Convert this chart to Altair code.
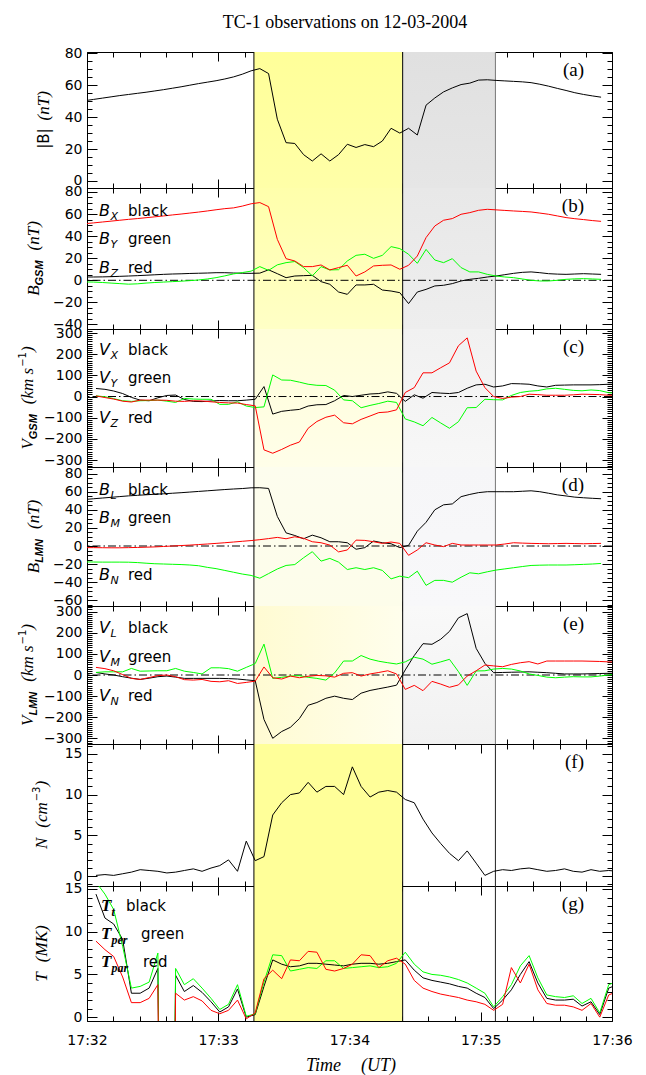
import json
import math
import altair as alt
import pandas as pd

# ---------------- time grids (seconds after 17:32:00 UT) ----------------
T_B = [-1, 3, 7, 11, 15, 19, 23, 27, 31, 35,
       39, 43, 47, 51, 55, 59, 63, 67, 71, 75,
       79, 83, 87, 91, 95, 99, 103, 107, 111, 115,
       119, 123, 127, 131, 135, 139, 143, 147, 151, 155,
       159, 163, 167, 171, 175, 179, 183, 187, 191, 195,
       199, 203, 207, 211, 215, 219, 223, 227, 231, 235]
T_P = [4.1, 8.2, 12.2, 16.3, 20.3, 24.3, 28.4, 32.4, 36.5, 40.5,
       44.5, 48.6, 52.6, 56.7, 60.7, 64.7, 68.8, 72.8, 76.9, 80.9,
       84.9, 89.0, 93.0, 97.1, 101.1, 105.1, 109.2, 113.2, 117.3, 121.3,
       125.3, 129.4, 133.4, 137.5, 141.5, 145.5, 149.6, 153.6, 157.7, 161.7,
       165.7, 169.8, 173.8, 177.9, 181.9, 185.9, 190.0, 194.0, 198.1, 202.1,
       206.1, 210.2, 214.2, 218.3, 222.3, 226.3, 230.4, 234.4, 238.5, 242.5]

# ---------------- (a) |B| ----------------
B_TOT = [50.3, 51.1, 51.9, 52.7, 53.5, 54.2, 54.9, 55.6, 56.4, 57.2,
         58.1, 59.0, 60.0, 61.0, 61.9, 62.8, 63.9, 65.2, 66.9, 69.0,
         70.4, 67.3, 38.7, 24.0, 23.5, 16.5, 12.5, 17.0, 12.5, 16.5,
         23.0, 21.0, 22.8, 21.5, 25.0, 33.0, 30.0, 33.0, 28.8, 47.5,
         52.0, 55.8, 58.3, 60.4, 61.3, 63.2, 63.4, 63.0, 62.7, 62.4,
         62.1, 61.6, 60.6, 59.4, 58.0, 56.7, 55.3, 54.2, 53.3, 52.5]

# ---------------- (b) B GSM ----------------
BGSM_BLACK = [3.0, 3.0, 3.1, 3.3, 3.6, 3.9, 4.2, 4.6, 5.0, 5.4,
              5.7, 5.9, 6.2, 6.4, 6.6, 6.9, 6.9, 6.6, 6.4, 6.3,
              6.5, 9.5, 6.0, 2.4, 3.9, 4.2, 4.5, -1.2, -3.6, -10.6,
              -12.7, -4.2, -4.2, -3.6, -8.8, -9.7, -11.2, -21.1, -10.6, -8.2,
              -5.1, -4.5, -3.0, -0.6, 0.9, 1.8, 3.0, 3.9, 5.1, 6.3,
              7.2, 7.6, 6.9, 6.0, 5.6, 5.4, 5.7, 6.0, 5.7, 5.4]
BGSM_GREEN = [-1.5, -1.6, -2.0, -2.5, -3.0, -3.5, -3.2, -2.5, -2.0, -1.6,
              -1.2, -0.8, -0.3, 0.3, 1.2, 2.4, 4.0, 5.8, 7.0, 8.3,
              12.4, 9.0, 14.0, 16.0, 17.0, 11.5, 4.0, 12.4, 9.4, 9.6,
              17.5, 22.6, 23.6, 19.9, 22.6, 30.5, 28.7, 23.6, 15.4, 28.0,
              18.4, 16.0, 19.6, 11.5, 7.6, 7.6, 5.4, 3.9, 3.0, 2.4,
              1.2, 0.0, -0.6, -0.6, 0.0, 0.9, 1.3, 1.5, 1.2, 0.9]
BGSM_RED = [51.3, 52.0, 52.8, 53.6, 54.4, 55.2, 55.9, 56.7, 57.5, 58.3,
            59.2, 60.0, 60.9, 61.8, 62.8, 63.9, 64.9, 65.6, 67.2, 69.3,
            70.4, 66.7, 37.1, 19.6, 17.5, 12.4, 12.4, 13.9, 9.4, 11.5,
            13.6, 3.9, 7.6, 13.0, 13.6, 13.9, 10.0, 13.6, 22.0, 38.7,
            49.2, 54.4, 55.9, 59.8, 61.3, 63.4, 64.3, 63.8, 63.3, 62.8,
            62.4, 61.9, 60.9, 59.8, 58.3, 56.8, 55.8, 55.0, 54.1, 53.4]

# ---------------- (c) V GSM ----------------
VGSM_BLACK = [38, 34, 26, 14, -4, -17, -20, -6, 5, 7,
              -14, -23, -24, -21, -19, -20, -20, -17, -13, 47,
              -83, -70, -65, -61, -45, -39, -38, -20, 5, 0,
              6, 12, 14, 22, 15, -23, 8, -8, 19, 16,
              14, 19, 39, 55, 58, 45, 50, 61, 60, 58,
              50, 45, 53, 54, 55, 55, 55, 56, 58, 58]
VGSM_GREEN = [3, -1, -10, -20, -23, -20, -19, -17, -22, -28,
              -9, -12, -13, -13, -37, -37, -25, -45, -52, -49,
              102, 78, 77, 68, 58, 53, 52, 30, -16, -20,
              -53, -42, -33, -22, -28, -106, -120, -138, -99, -125,
              -150, -119, -53, -52, -13, -15, -16, 5, 19, 25,
              28, 36, 39, 34, 29, 27, 31, 28, 18, 16]
VGSM_RED = [3, -5, -12, -22, -26, -17, -17, -17, -18, -22,
            -23, -20, -21, -25, -28, -30, -31, -38, -44, -252,
            -268, -250, -230, -215, -150, -118, -98, -88, -124, -129,
            -108, -92, -76, -73, -63, 19, 42, 112, 112, 136,
            159, 240, 277, 120, 42, 0, -9, -3, 0, 11,
            9, 6, 6, 6, 8, 11, 10, 9, 6, 6]

# ---------------- (d) B LMN ----------------
BLMN_BLACK = [51.4, 52.2, 53.0, 53.8, 54.6, 55.4, 56.0, 56.6, 57.2, 57.7,
              58.3, 58.9, 59.6, 60.3, 61.0, 61.7, 62.4, 63.0, 63.5, 64.3,
              64.4, 63.6, 32.7, 14.5, 11.6, 8.0, 12.0, 9.1, 4.7, 4.7,
              3.6, -3.6, -1.8, 5.5, 3.6, 2.5, -1.8, 0.7, 16.4, 26.2,
              40.0, 45.5, 46.5, 54.5, 57.0, 59.0, 60.0, 60.0, 60.0, 60.0,
              60.5, 61.0, 60.0, 58.3, 56.5, 55.3, 54.0, 53.3, 52.7, 52.2]
BLMN_GREEN = [-17.6, -17.7, -17.8, -17.8, -17.8, -17.9, -18.3, -19.0, -19.6, -19.9,
              -20.2, -20.5, -21.0, -21.8, -23.6, -25.0, -27.0, -29.0, -31.0, -32.5,
              -35.6, -30.5, -25.4, -21.5, -20.5, -13.0, -6.3, -16.7, -13.7, -17.8,
              -26.0, -24.0, -26.0, -24.0, -27.0, -36.3, -33.3, -35.0, -27.8, -43.5,
              -38.0, -38.0, -40.0, -34.5, -29.6, -30.7, -28.5, -26.6, -25.3, -24.0,
              -22.7, -21.5, -21.2, -21.0, -21.0, -21.0, -20.7, -20.3, -19.9, -19.3]
BLMN_RED = [-1.8, -1.8, -1.9, -2.0, -2.0, -1.8, -1.6, -1.3, -1.0, -0.5,
            0.0, 0.5, 1.0, 1.6, 2.2, 2.9, 3.6, 4.4, 5.2, 6.0,
            7.0, 8.2, 9.5, 8.0, 10.2, 8.5, 4.7, 3.6, 1.0, -6.5,
            -4.4, 6.5, 6.2, 4.7, 2.9, 4.4, 2.9, -10.3, -4.4, 3.6,
            1.1, -0.7, 2.9, 1.1, 1.1, 1.1, 1.1, 1.1, 2.2, 3.6,
            3.2, 2.9, 2.7, 2.5, 2.7, 2.9, 2.7, 2.5, 2.7, 2.9]

# ---------------- (e) V LMN ----------------
VLMN_BLACK = [12, 5, 0, -8, -15, -21, -15, -8, -5, -10,
              -16, -16, -16, -16, -16, -17, -19, -23, -27, -210,
              -299, -267, -247, -206, -143, -130, -110, -100, -110, -116,
              -86, -73, -65, -57, -48, 24, 92, 148, 145, 169,
              206, 270, 290, 126, 55, 11, 12, 13, 14, 15,
              13, 11, 8, 5, 5, 5, 6, 7, 8, 8]
VLMN_GREEN = [12, 15, 15, 15, 31, 18, 19, 20, 20, 31,
              18, 12, 5, 34, 34, 30, 18, 36, 54, 146,
              -16, -11, -5, -3, -11, -16, -24, 10, 66, 66,
              92, 75, 65, 58, 52, 62, 84, 75, 51, 62,
              74, 16, -49, 19, 20, 28, 31, 28, 19, 5,
              -2, -10, -13, -10, -8, -9, -9, -5, 0, 5]
VLMN_RED = [36, 30, 20, 2, -16, -21, -12, -3, 0, -8,
            -22, -24, -21, -30, -32, -27, -40, -35, -29, 38,
            -13, -19, -5, -13, -6, -2, -4, -10, 8, 11,
            -5, 5, 12, 20, 5, -68, -49, -74, -30, -43,
            -58, -47, -5, 20, 47, 43, 39, 50, 58, 63,
            52, 66, 66, 66, 66, 66, 65, 64, 62, 62]

# ---------------- (f) N ----------------
DENSITY = [0.1, 0.2, 0.1, 0.3, 0.5, 0.8, 0.7, 0.6, 0.4, 0.5,
           0.7, 0.9, 0.6, 1.0, 1.3, 2.0, 0.6, 4.3, 1.9, 2.4,
           7.5, 9.0, 10.0, 10.2, 11.5, 10.3, 11.0, 11.0, 10.0, 13.4,
           11.0, 9.7, 10.3, 10.5, 10.3, 9.4, 9.0, 7.0, 5.3, 4.0,
           2.8, 1.9, 3.1, 1.6, 0.1, 0.6, 0.8, 0.7, 0.9, 1.0,
           0.8, 0.6, 0.7, 0.9, 0.6, 0.5, 0.8, 0.6, 0.7, 0.6]

# ---------------- (g) T ----------------
GAP = -100.0  # instrument fill value: the traces drop off the bottom of the panel
TEMP_BLACK = [14.4, 11.6, 10.9, 9.1, 2.8, 2.8, 3.4, 5.7, GAP, 4.9,
              3.0, 3.7, 2.9, 1.8, 0.6, 1.2, 3.3, 0.0, 0.3, 3.6,
              6.7, 6.2, 5.9, 6.0, 6.3, 6.3, 6.2, 6.1, 6.0, 6.2,
              6.3, 6.3, 6.2, 6.3, 6.5, 6.7, 5.5, 4.6, 4.3, 4.1,
              3.9, 3.6, 3.4, 2.8, 2.3, 1.0, 2.0, 3.2, 5.0, 6.5,
              4.0, 2.2, 2.0, 2.0, 2.1, 1.3, 1.8, 0.3, 3.4, 3.8]
TEMP_GREEN = [15.8, 14.4, 12.6, 8.3, 3.4, 3.6, 4.1, 7.5, GAP, 5.7,
              3.8, 4.5, 3.4, 2.2, 0.9, 1.5, 3.8, 0.1, 0.4, 4.1,
              7.3, 7.2, 5.4, 5.6, 5.8, 5.7, 6.6, 6.6, 5.7, 5.8,
              5.9, 6.0, 5.8, 5.9, 6.3, 7.6, 6.2, 5.3, 5.0, 4.9,
              4.7, 4.4, 4.0, 3.4, 2.8, 1.2, 2.4, 3.8, 6.0, 7.2,
              4.6, 2.6, 2.4, 2.3, 2.5, 1.6, 2.2, 0.5, 3.8, 4.2]
TEMP_RED = [8.9, 7.9, 7.1, 4.7, 1.7, 1.7, 2.2, 3.8, GAP, 2.8,
            2.0, 2.4, 1.9, 0.8, 0.4, 0.8, 2.0, -0.2, 0.5, 4.5,
            5.5, 4.5, 6.7, 6.6, 7.7, 7.6, 5.6, 5.4, 5.7, 6.2,
            7.3, 7.2, 5.8, 6.6, 6.9, 6.2, 4.3, 3.4, 3.0, 2.7,
            2.5, 2.3, 2.0, 1.8, 1.5, 0.8, 1.5, 5.8, 4.0, 6.2,
            3.2, 1.6, 1.4, 1.4, 1.2, 0.8, 1.6, 0.0, 2.6, 3.0]

# ---------------- intervals and axis text ----------------
YELLOW_SPAN = [76.3, 144.3]
GRAY_SPAN = [144.3, 186.7]
TIME_TICKS = [0, 60, 120, 180, 240]
TIME_LABELS = ["17:32", "17:33", "17:34", "17:35", "17:36"]
TITLE = "TC-1 observations on 12-03-2004"

# ---------------- layout ----------------
W = 525
XS = alt.Scale(domain=[0, 240], nice=False, zero=False)
ONE = pd.DataFrame({"d": [0]})
SERIF = "Liberation Serif"
SANS = "DejaVu Sans"
LSANS = "Liberation Sans"

CHAR_W = {
    SERIF: {" ": .25, "(": .333, ")": .333, "|": .275, "B": .611, "V": .611, "N": .667,
            "T": .556, "M": .833, "K": .667, "n": .5, "k": .444, "m": .722, "s": .389, "c": .444},
    LSANS: {"G": .778, "S": .667, "M": .833, "L": .611, "N": .722},
    SANS: {"|": .337, "B": .686, "−": .838, "1": .636, "3": .636},
}


def piece_w(text, font, size):
    tab = CHAR_W[font]
    return sum(tab.get(ch, 0.5) for ch in text) * size


def frange(lo, hi, step):
    a = math.ceil(lo / step - 1e-9)
    b = math.floor(hi / step + 1e-9)
    return [round(i * step, 6) for i in range(a, b + 1)]


def grad(c0, c1, horizontal=False):
    return alt.LinearGradient(
        gradient="linear",
        stops=[alt.GradientStop(color=c0, offset=0), alt.GradientStop(color=c1, offset=1)],
        x1=0, y1=0, x2=1 if horizontal else 0, y2=0 if horizontal else 1)


def text_layer(s, x, y, size, font, style="normal", weight="normal", angle=0, align="left"):
    return alt.Chart(ONE).mark_text(
        text=s, font=font, fontSize=size, fontStyle=style, fontWeight=weight,
        angle=angle, align=align, baseline="alphabetic", color="black"
    ).encode(x=alt.value(x), y=alt.value(y))


def tick_axis(orient, values, size):
    return alt.Axis(orient=orient, values=values, tickSize=size, offset=-size,
                    labels=False, domain=False, grid=False, ticks=True, title=None,
                    tickColor="black", tickWidth=1)


def y_title_layers(pieces, h, base_x):
    total = sum(piece_w(t, f, s) + gap for t, f, s, st, wt, sh, gap in pieces)
    y = h / 2 + total / 2
    out = []
    for t, f, s, st, wt, sh, gap in pieces:
        y -= gap
        out.append(text_layer(t, base_x + sh, y, s, f, st, wt, angle=270))
        y -= piece_w(t, f, s)
    return out


def sub_title(letter, sub):
    return [(letter, SERIF, 17, "italic", "normal", 0, 0),
            (sub, LSANS, 11, "italic", "bold", 4, 0)]


NT = [("(nT)", SERIF, 17, "italic", "normal", 0, 10)]
KMS = [("(km s", SERIF, 17, "italic", "normal", 0, 10),
       ("−1", SANS, 10, "normal", "normal", -7, 1),
       (")", SERIF, 17, "italic", "normal", 0, 0)]

PANELS = [
    dict(letter="(a)", h=136, domain=[-4.4, 80.8], major=20, minor=5, zero=False,
         series=[(T_B, B_TOT, "black")],
         yellow=grad("#ffff99", "#ffffa8"), gray=grad("#e0e0e0", "#e6e6e6"), edge="#777777",
         title=[("|B|", SANS, 15, "normal", "normal", 0, 0),
                ("(nT)", SERIF, 17, "italic", "normal", 0, 8)], title_x=-38,
         rows=[]),
    dict(letter="(b)", h=141, domain=[-44.1, 83.6], major=20, minor=5, zero=True,
         series=[(T_B, BGSM_BLACK, "black"), (T_B, BGSM_GREEN, "#00ff00"), (T_B, BGSM_RED, "#ff0000")],
         yellow=grad("#ffffab", "#ffffc6"), gray=grad("#e8e8e8", "#eeeeee"), edge="#777777",
         title=sub_title("B", "GSM") + NT, title_x=-48,
         rows=[("B", "X", "black", 28, 41), ("B", "Y", "green", 56, 41), ("B", "Z", "red", 85, 41)]),
    dict(letter="(c)", h=138, domain=[-333, 319], major=100, minor=10, zero=True,
         series=[(T_P, VGSM_BLACK, "black"), (T_P, VGSM_GREEN, "#00ff00"), (T_P, VGSM_RED, "#ff0000")],
         yellow=grad("#fffed8", "#fffee9"), gray=grad("#f1f1f1", "#f7f7f7"), edge="#777777",
         title=sub_title("V", "GSM") + KMS, title_x=-54,
         rows=[("V", "X", "black", 26, 41), ("V", "Y", "green", 54, 41), ("V", "Z", "red", 94, 41)]),
    dict(letter="(d)", h=139, domain=[-66.3, 87.3], major=20, minor=5, zero=True,
         series=[(T_B, BLMN_BLACK, "black"), (T_B, BLMN_GREEN, "#00ff00"), (T_B, BLMN_RED, "#ff0000")],
         yellow=grad("#fdfdee", "#fdfdea"), gray=grad("#f6f6f8", "#f8f8fa"), edge="#777777",
         title=sub_title("B", "LMN") + NT, title_x=-48,
         rows=[("B", "L", "black", 28, 41), ("B", "M", "green", 56, 41), ("B", "N", "red", 113, 41)]),
    dict(letter="(e)", h=138, domain=[-326, 326], major=100, minor=10, zero=True,
         series=[(T_P, VLMN_BLACK, "black"), (T_P, VLMN_GREEN, "#00ff00"), (T_P, VLMN_RED, "#ff0000")],
         yellow=grad("#fffbd2", "#fffeec", horizontal=True), gray=grad("#f9f9f9", "#f1f1f1"), edge="#777777",
         title=sub_title("V", "LMN") + KMS, title_x=-54,
         rows=[("V", "L", "black", 27, 41), ("V", "M", "green", 56, 41), ("V", "N", "red", 95, 41)]),
    dict(letter="(f)", h=142, domain=[-1.2, 16.2], major=5, minor=1, zero=False,
         series=[(T_P, DENSITY, "black")],
         yellow=grad("#ffff99", "#ffff99"), gray=None, edge="#222222",
         title=[("N", SERIF, 17, "italic", "normal", 0, 0),
                ("(cm", SERIF, 17, "italic", "normal", 0, 10),
                ("−3", SANS, 10, "normal", "normal", -7, 1),
                (")", SERIF, 17, "italic", "normal", 0, 0)], title_x=-40,
         rows=[]),
    dict(letter="(g)", h=135, domain=[-0.45, 15.35], major=5, minor=1, zero=False,
         series=[(T_P, TEMP_BLACK, "black"), (T_P, TEMP_GREEN, "#00ff00"), (T_P, TEMP_RED, "#ff0000")],
         yellow=grad("#ffff99", "#ffff99"), gray=None, edge="#222222",
         title=[("T", SERIF, 17, "italic", "normal", 0, 0),
                ("(MK)", SERIF, 17, "italic", "normal", 0, 10)], title_x=-40,
         rows=[("T", "t", "black", 25, 39), ("T", "per", "green", 53, 54), ("T", "par", "red", 81, 56)]),
]


def build_panel(p, index):
    h = p["h"]
    lo, hi = p["domain"]
    ys = alt.Scale(domain=p["domain"], nice=False, zero=False)
    layers = []

    # shaded intervals
    span = pd.DataFrame({"t0": [YELLOW_SPAN[0]], "t1": [YELLOW_SPAN[1]]})
    layers.append(alt.Chart(span).mark_rect(color=p["yellow"]).encode(
        x=alt.X("t0:Q", scale=XS, axis=None), x2="t1:Q", y=alt.value(0), y2=alt.value(h)))
    if p["gray"] is not None:
        gspan = pd.DataFrame({"t0": [GRAY_SPAN[0]], "t1": [GRAY_SPAN[1]]})
        layers.append(alt.Chart(gspan).mark_rect(color=p["gray"]).encode(
            x=alt.X("t0:Q", scale=XS, axis=None), x2="t1:Q", y=alt.value(0), y2=alt.value(h)))

    # interval boundaries
    layers.append(alt.Chart(pd.DataFrame({"t": [GRAY_SPAN[1]]})).mark_rule(
        color=p["edge"], strokeWidth=1).encode(x=alt.X("t:Q", scale=XS, axis=None)))
    layers.append(alt.Chart(pd.DataFrame({"t": YELLOW_SPAN})).mark_rule(
        color="black", strokeWidth=1).encode(x=alt.X("t:Q", scale=XS, axis=None)))

    # zero reference
    if p["zero"]:
        layers.append(alt.Chart(pd.DataFrame({"v": [0.0]})).mark_rule(
            color="black", strokeWidth=1, strokeDash=[8, 3, 1.5, 3]).encode(
            y=alt.Y("v:Q", scale=ys, axis=None)))

    # data traces
    for times, vals, color in p["series"]:
        df = pd.DataFrame({"t": times, "v": vals})
        layers.append(alt.Chart(df).mark_line(color=color, strokeWidth=1, clip=True).encode(
            x=alt.X("t:Q", scale=XS, axis=None), y=alt.Y("v:Q", scale=ys, axis=None)))

    # axes: inward ticks on all four sides + labels
    y_major = frange(lo, hi, p["major"])
    y_minor = frange(lo, hi, p["minor"])
    x_minor = frange(0, 240, 12)
    ad = pd.DataFrame({"t": [120.0], "v": [(lo + hi) / 2]})

    def axl(xa, ya):
        return alt.Chart(ad).mark_point(opacity=0).encode(
            x=alt.X("t:Q", scale=XS, axis=xa), y=alt.Y("v:Q", scale=ys, axis=ya))

    y_lab = alt.Axis(orient="left", values=y_major, ticks=False, tickSize=0, domain=False,
                     grid=False, title=None, labelFont=SANS, labelFontSize=14, labelColor="black",
                     labelPadding=5, labelOverlap=False, format="d")
    x_lab = None
    if index == len(PANELS) - 1:
        x_lab = alt.Axis(orient="bottom", values=TIME_TICKS, ticks=False, tickSize=0, domain=False,
                         grid=False, title=None, labelFont=SANS, labelFontSize=14, labelColor="black",
                         labelPadding=12, labelOverlap=False, labelFlush=False,
                         labelExpr=json.dumps(TIME_LABELS) + "[round(datum.value / 60)]")
    layers += [
        axl(tick_axis("bottom", TIME_TICKS, 9), tick_axis("left", y_major, 10)),
        axl(tick_axis("bottom", x_minor, 5), tick_axis("left", y_minor, 5)),
        axl(tick_axis("top", TIME_TICKS, 9), tick_axis("right", y_major, 10)),
        axl(tick_axis("top", x_minor, 5), tick_axis("right", y_minor, 5)),
        axl(x_lab, y_lab),
    ]

    # y-axis title (rotated, composed of pieces)
    layers += y_title_layers(p["title"], h, p["title_x"])

    # in-panel legend rows
    for letter, sub, word, yb, wx in p["rows"]:
        if letter == "T":
            layers.append(text_layer(letter, 14, yb, 17, SERIF, "italic", "bold"))
            layers.append(text_layer(sub, 24.5, yb + 5, 12, SERIF, "italic", "bold"))
        else:
            layers.append(text_layer(letter, 12, yb, 16, SANS, "italic"))
            layers.append(text_layer(sub, 23.5, yb + 4, 11, SANS, "italic"))
        layers.append(text_layer(word, wx, yb, 15, SANS))

    # panel letter
    layers.append(text_layer(p["letter"], W - 28, 24, 19, SERIF, align="right"))

    if index == 0:
        layers.append(text_layer(TITLE, 258, -24, 18, SERIF, align="center"))
    if index == len(PANELS) - 1:
        layers.append(text_layer("Time", 254, h + 50, 18, SERIF, "italic", align="right"))
        layers.append(text_layer("(UT)", 274, h + 50, 18, SERIF, "italic"))

    return alt.layer(*layers).resolve_axis(x="independent", y="independent").properties(
        width=W, height=h)


panels = [build_panel(p, i) for i, p in enumerate(PANELS)]

chart = alt.vconcat(*panels, spacing=0, bounds="flush").resolve_scale(
    x="independent", y="independent"
).properties(
    padding={"left": 17, "top": 13, "right": 10, "bottom": 2},
    background="white",
).configure_view(stroke="black", strokeWidth=1)

chart.save("out.html", embed_options={"renderer": "svg", "actions": False})
